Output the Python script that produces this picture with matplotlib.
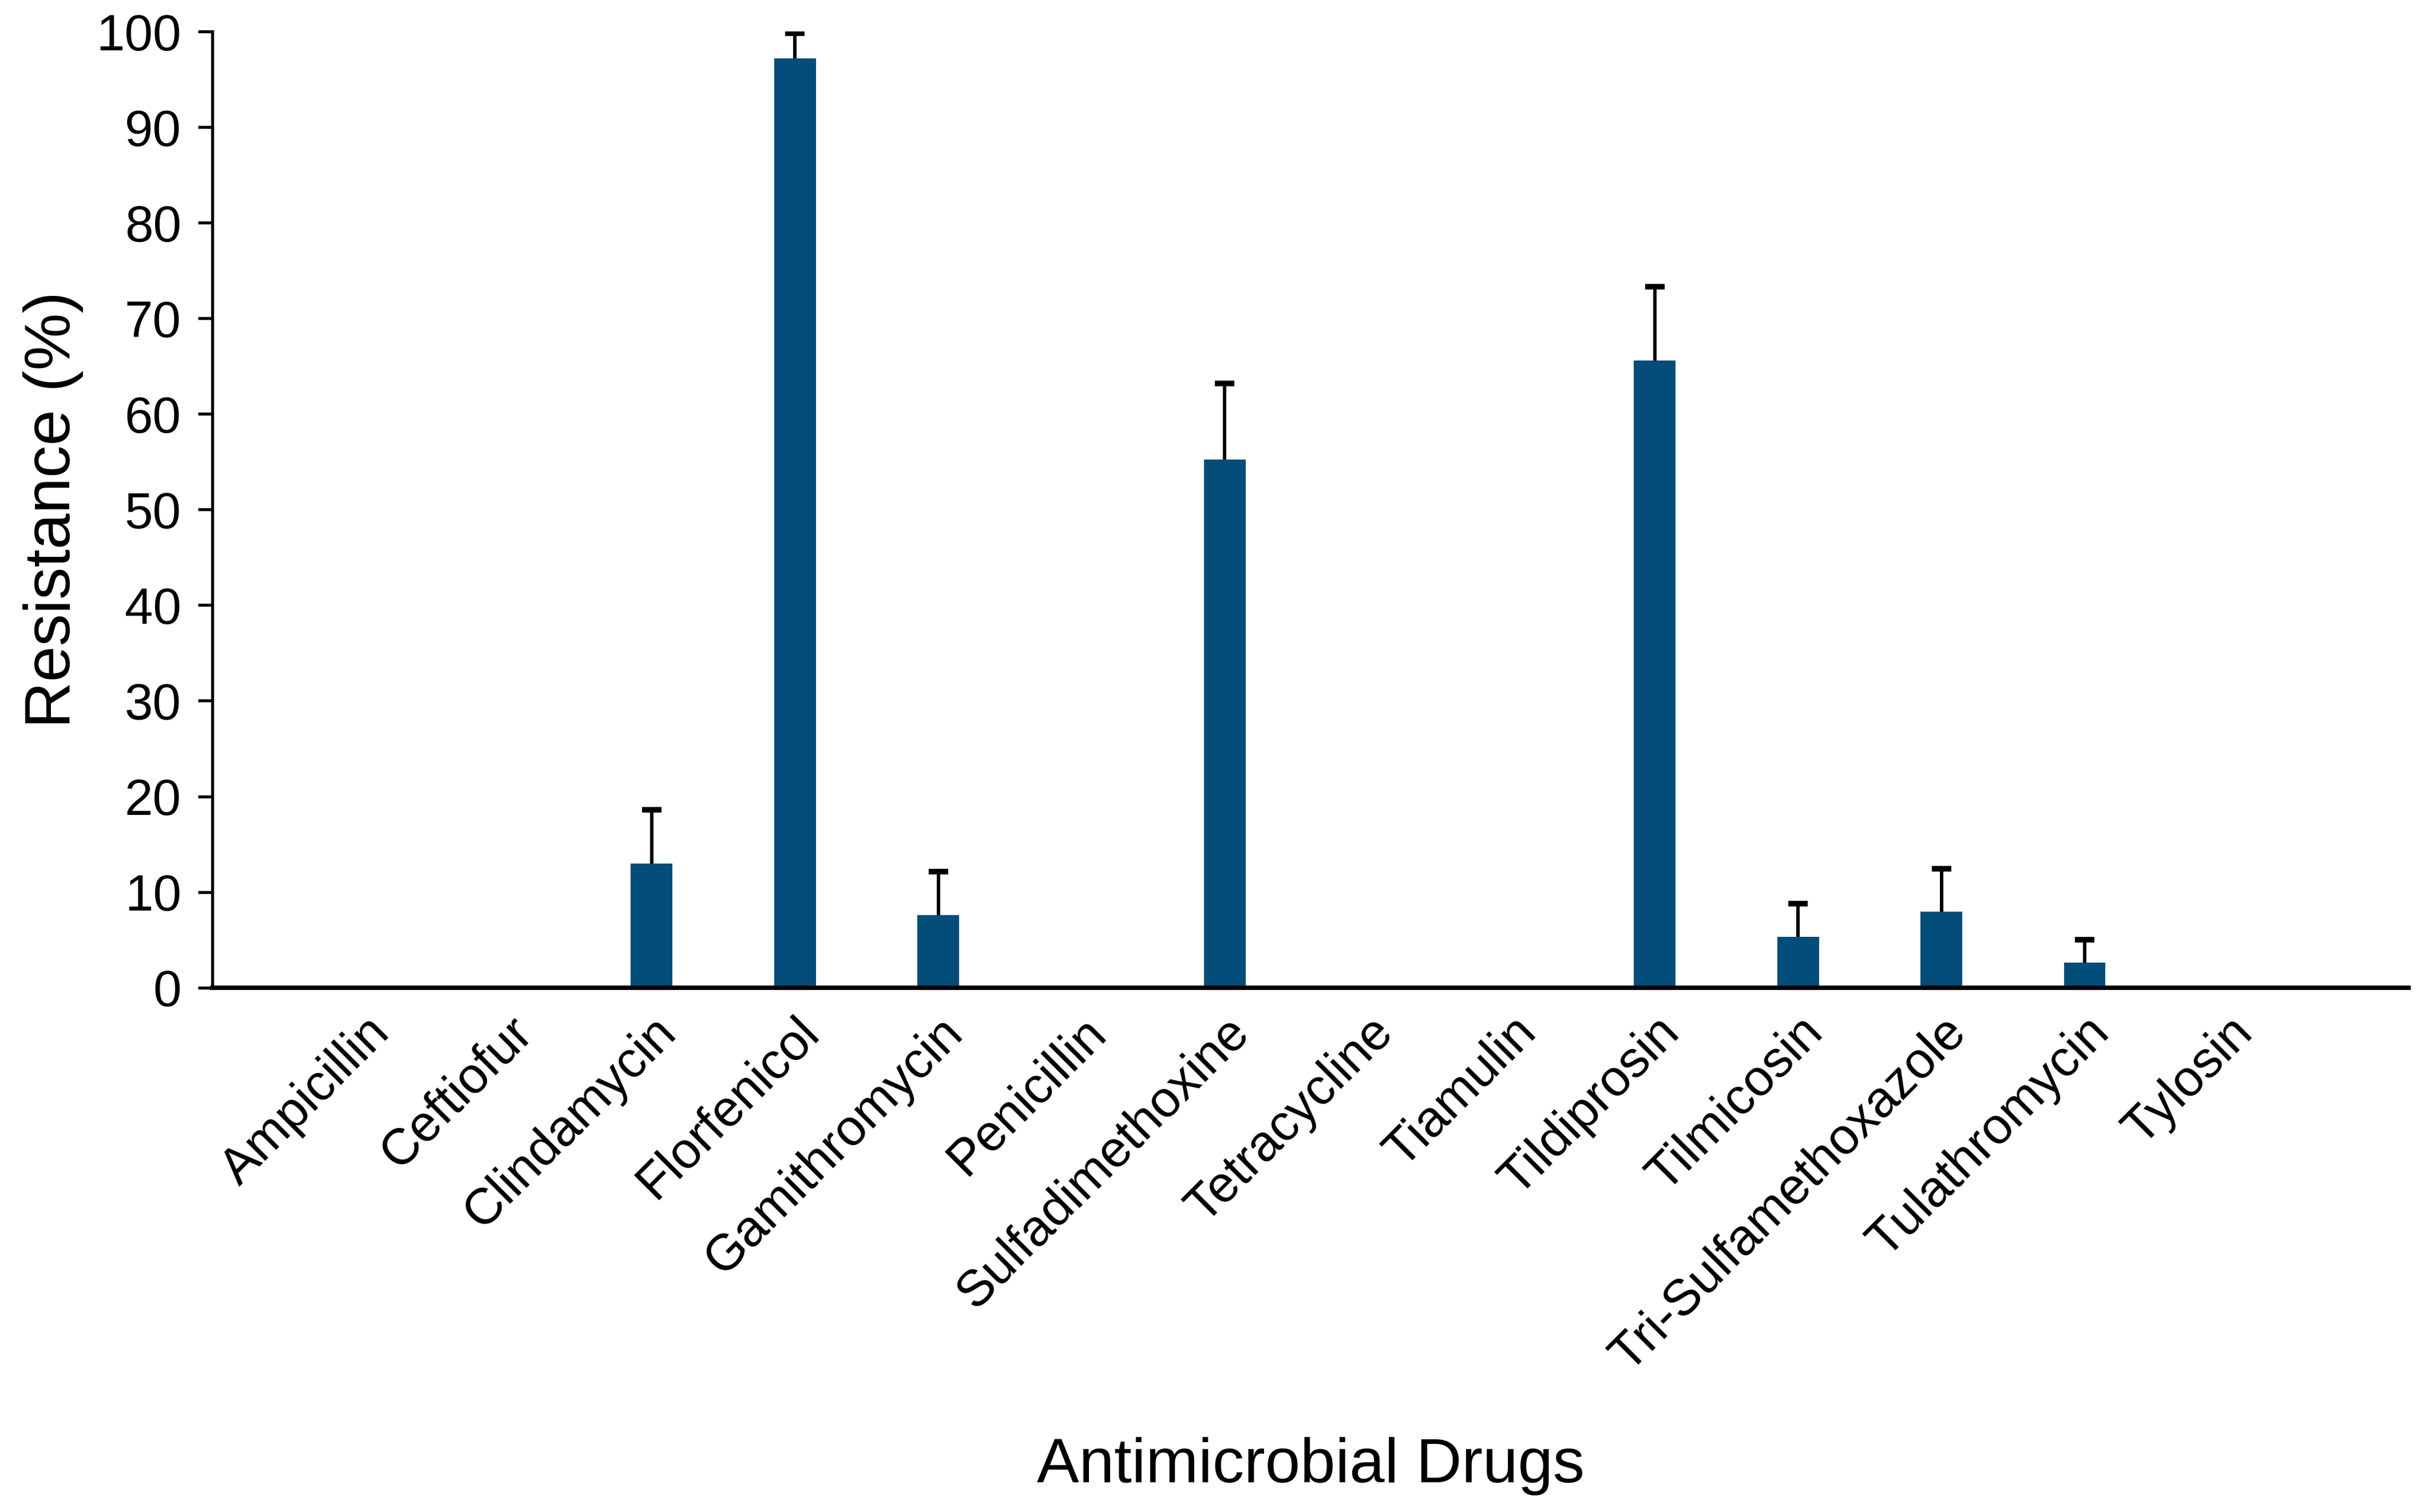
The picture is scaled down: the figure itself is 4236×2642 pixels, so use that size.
import numpy as np
import matplotlib
matplotlib.use("Agg")
import matplotlib.pyplot as plt
import matplotlib.transforms as mtransforms

drugs = ["Ampicillin", "Ceftiofur", "Clindamycin", "Florfenicol", "Gamithromycin",
         "Penicillin", "Sulfadimethoxine", "Tetracycline", "Tiamulin", "Tildiprosin",
         "Tilmicosin", "Tri-Sulfamethoxazole", "Tulathromycin", "Tylosin"]
resistance = [0, 0, 12.95, 97.2, 7.6, 0, 55.2, 0, 0, 65.6, 5.3, 7.95, 2.6, 0]
error_upper = [0, 0, 5.65, 2.6, 4.5, 0, 8.0, 0, 0, 7.7, 3.5, 4.45, 2.4, 0]
yticks = [0, 10, 20, 30, 40, 50, 60, 70, 80, 90, 100]

plt.rcParams["font.family"] = ["Liberation Sans", "DejaVu Sans"]

W, H = 4236, 2642
fig = plt.figure(figsize=(W / 100, H / 100), dpi=100)
ax = fig.add_axes([371 / W, (H - 1725.6) / H, (4209 - 371) / W, (1725.6 - 55.1) / H])

bar_color = "#024D7A"
x = np.arange(len(drugs))
ax.bar(x, resistance, width=0.29, color=bar_color, zorder=2)

res = np.array(resistance)
err = np.array(error_upper)
mask = res > 0
_, caplines, _ = ax.errorbar(x[mask], res[mask], yerr=[np.zeros(mask.sum()), err[mask]],
                             fmt="none", ecolor="black", elinewidth=4.3, capsize=12,
                             capthick=7, zorder=3)
# hide the lower caps (one-sided error bars)
for cl in caplines:
    yd = np.asarray(cl.get_ydata())
    if np.allclose(yd, res[mask]):
        cl.set_visible(False)

ax.set_xlim(-1.066, 14.26)
ax.set_ylim(0, 100)
ax.set_yticks(yticks)
ax.set_yticklabels([str(t) for t in yticks])
ax.set_xticks(x)
ax.set_xticklabels(drugs, rotation=45, ha="right", va="top", rotation_mode="anchor")
offset = mtransforms.ScaledTranslation(15 / 100, 0, fig.dpi_scale_trans)
for lab in ax.get_xticklabels():
    lab.set_transform(lab.get_transform() + offset)

for s in ["top", "right"]:
    ax.spines[s].set_visible(False)
ax.spines["left"].set_linewidth(3.8)
ax.spines["bottom"].set_linewidth(5.5)
ax.spines["bottom"].set_zorder(4)

ax.tick_params(axis="y", direction="out", length=18, width=3.8, labelsize=64, pad=21)
ax.tick_params(axis="x", length=0, labelsize=64, pad=26)

ax.set_ylabel("Resistance (%)", fontsize=81)
ax.yaxis.set_label_coords((146 - 371) / (4209 - 371), 0.5)
ax.set_xlabel("Antimicrobial Drugs", fontsize=79.5, va="top")
ax.xaxis.set_label_coords(0.5, (1725.6 - 2511) / (1725.6 - 55.1))

fig.savefig("out.png", dpi=100)
